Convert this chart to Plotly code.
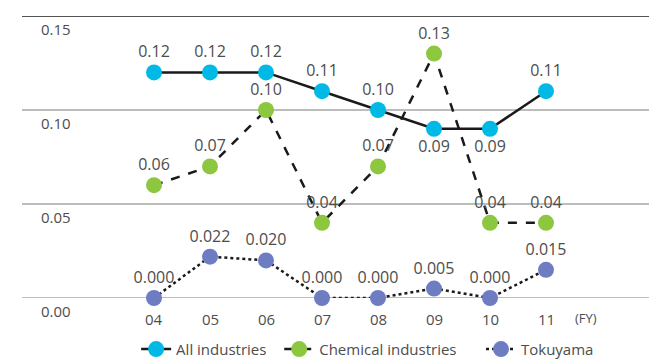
import plotly.graph_objects as go

years = ["04", "05", "06", "07", "08", "09", "10", "11"]
all_industries = [0.12, 0.12, 0.12, 0.11, 0.10, 0.09, 0.09, 0.11]
chemical = [0.06, 0.07, 0.10, 0.04, 0.07, 0.13, 0.04, 0.04]
tokuyama = [0.000, 0.022, 0.020, 0.000, 0.000, 0.005, 0.000, 0.015]
all_pos = ["top center"] * 5 + ["bottom center", "bottom center", "top center"]
y_ticks = [0.00, 0.05, 0.10, 0.15]

FONT = "Open Sans"
LABEL_COLOR = "#4d4d4d"
NB = "\u00a0"  # non-breaking space used to pad legend entries
x = list(range(len(years)))

fig = go.Figure()

fig.add_trace(go.Scatter(
    x=x, y=all_industries, name="All industries" + NB * 2, mode="lines+markers+text",
    line=dict(color="#1a1a1a", width=2.5),
    marker=dict(color="#00b9e4", size=16),
    text=[f"{v:.2f}" for v in all_industries], textposition=all_pos,
    textfont=dict(size=16, color=LABEL_COLOR, family=FONT), cliponaxis=False,
))
fig.add_trace(go.Scatter(
    x=x, y=chemical, name="Chemical industries" + NB * 5, mode="lines+markers+text",
    line=dict(color="#1a1a1a", width=2.5, dash="dash"),
    marker=dict(color="#8dc63f", size=16),
    text=[f"{v:.2f}" for v in chemical], textposition="top center",
    textfont=dict(size=16, color=LABEL_COLOR, family=FONT), cliponaxis=False,
))
fig.add_trace(go.Scatter(
    x=x, y=tokuyama, name="Tokuyama", mode="lines+markers+text",
    line=dict(color="#1a1a1a", width=2.5, dash="dot"),
    marker=dict(color="#6e7dc1", size=16),
    text=[f"{v:.3f}" for v in tokuyama], textposition="top center",
    textfont=dict(size=16, color=LABEL_COLOR, family=FONT), cliponaxis=False,
))

# horizontal rules with their labels tucked just underneath
for t in y_ticks:
    top = t == max(y_ticks)
    fig.add_shape(type="line", xref="paper", yref="y", x0=0, x1=1, y0=t, y1=t,
                  line=dict(color="#1a1a1a" if top else "#7a7a7a",
                            width=1.5 if top else 1),
                  layer="below")
    fig.add_annotation(
        x=-2.05, y=t, xref="x", yref="y", text=f"{t:.2f}", showarrow=False,
        xanchor="left", yanchor="top", yshift=-1,
        font=dict(size=15, color=LABEL_COLOR, family=FONT),
    )

# x tick labels
for i, yr in enumerate(years):
    fig.add_annotation(
        x=i, y=0, xref="x", yref="y", text=yr, showarrow=False,
        yanchor="top", yshift=-9, font=dict(size=15, color=LABEL_COLOR, family=FONT),
    )
fig.add_annotation(
    x=7.72, y=0, xref="x", yref="y", text="(FY)", showarrow=False,
    yanchor="top", yshift=-9, font=dict(size=13, color=LABEL_COLOR, family=FONT),
)

fig.update_xaxes(range=[-2.357, 8.839], showgrid=False, zeroline=False,
                 showticklabels=False, fixedrange=True)
fig.update_yaxes(range=[0, 0.15], showgrid=False, zeroline=False,
                 showticklabels=False, fixedrange=True)

fig.update_layout(
    width=649, height=359,
    margin=dict(l=22, r=0, t=16, b=61, autoexpand=False),
    plot_bgcolor="white", paper_bgcolor="white",
    font=dict(family=FONT, color=LABEL_COLOR),
    legend=dict(orientation="h", x=0.182, xanchor="left", y=0.027, yanchor="middle",
                yref="container",
                font=dict(size=15, color=LABEL_COLOR, family=FONT),
                itemwidth=30, tracegroupgap=0),
    showlegend=True,
)

fig.write_html("out.html")
